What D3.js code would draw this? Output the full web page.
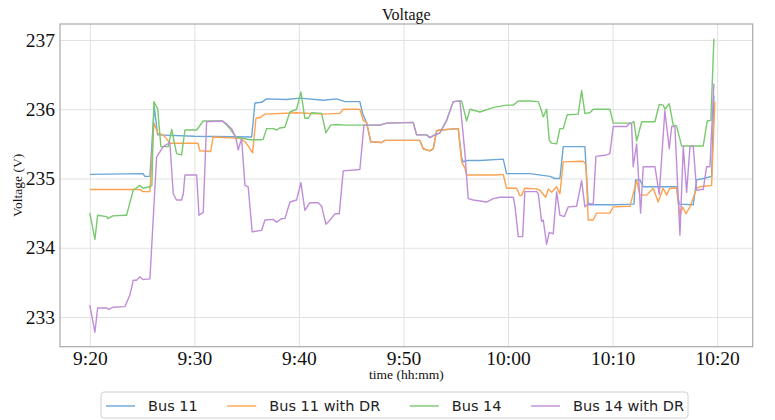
<!DOCTYPE html>
<html>
<head>
<meta charset="utf-8">
<script src="https://cdn.jsdelivr.net/npm/d3@7"></script>
<style>
  html, body { margin: 0; padding: 0; background: #fff; }
  svg { display: block; }
</style>
</head>
<body>
<svg id="chart" width="775" height="420"></svg>
<script>
// Minutes after 9:20 and bus voltages (V), one pair of arrays per series.
const bus11Min = [0, 5.08, 5.27, 5.75, 6.16, 6.49, 10.0, 15.48, 15.79, 16.43, 16.91, 18.82, 20.10, 22.33, 23.61, 24.40, 25.83, 26.09, 26.48, 26.86, 27.91, 28.23, 31.57, 31.89, 32.53, 32.85, 33.17, 33.49, 35.24, 35.56, 35.71, 36.04, 37.31, 39.54, 39.86, 42.09, 44.01, 44.48, 44.96, 45.28, 47.35, 47.67, 50.06, 52.04, 52.20, 52.61, 52.93, 56.12, 56.37, 57.71, 58.04, 58.67, 59.47, 59.69];
const bus11 = [235.06, 235.07, 235.03, 235.03, 236.04, 235.63, 235.61, 235.60, 236.09, 236.10, 236.15, 236.14, 236.16, 236.13, 236.15, 236.11, 236.11, 235.94, 235.80, 235.53, 235.52, 235.55, 235.55, 235.43, 235.40, 235.43, 235.69, 235.70, 235.72, 235.30, 235.24, 235.26, 235.26, 235.28, 235.07, 235.07, 235.03, 235.00, 235.00, 235.46, 235.46, 234.62, 234.62, 234.63, 234.98, 234.98, 234.88, 234.88, 234.63, 234.62, 234.98, 235.00, 235.03, 236.20];

const bus11DrMin = [0, 4.79, 5.08, 5.75, 6.13, 6.52, 7.02, 7.66, 10.34, 10.53, 11.56, 11.80, 14.36, 14.84, 15.15, 15.57, 15.89, 16.27, 16.75, 19.78, 22.33, 23.92, 24.24, 25.83, 26.15, 26.48, 26.89, 27.91, 28.23, 31.57, 31.89, 32.53, 32.85, 33.17, 33.49, 35.24, 35.56, 35.88, 36.04, 38.91, 39.54, 39.86, 40.82, 41.14, 41.30, 41.61, 42.73, 43.05, 43.60, 43.85, 44.17, 44.65, 44.96, 45.28, 47.19, 47.45, 47.67, 48.15, 48.47, 49.74, 50.06, 51.66, 51.92, 52.30, 52.61, 53.26, 53.89, 54.36, 54.84, 55.16, 55.48, 56.12, 56.44, 56.70, 57.01, 57.40, 58.04, 58.35, 59.47, 59.78];
const bus11Dr = [234.84, 234.84, 234.81, 234.81, 235.80, 235.65, 235.63, 235.51, 235.51, 235.40, 235.39, 235.60, 235.58, 235.53, 235.47, 235.37, 235.87, 235.88, 235.93, 235.95, 235.93, 235.94, 236.00, 236.00, 235.84, 235.81, 235.53, 235.52, 235.55, 235.55, 235.43, 235.40, 235.43, 235.69, 235.70, 235.72, 235.24, 235.15, 235.05, 235.05, 235.06, 234.86, 234.86, 234.75, 234.76, 234.86, 234.85, 234.83, 234.73, 234.85, 234.80, 234.88, 234.78, 235.24, 235.25, 235.20, 234.40, 234.40, 234.50, 234.50, 234.59, 234.60, 234.75, 234.97, 234.76, 234.76, 234.86, 234.66, 234.86, 234.76, 234.86, 234.86, 234.45, 234.59, 234.49, 234.59, 234.86, 234.88, 234.90, 236.11];

const bus14Min = [0, 0.49, 0.75, 1.61, 1.73, 2.20, 3.36, 3.52, 4.15, 4.79, 5.08, 5.75, 5.94, 6.13, 6.49, 6.80, 7.50, 7.83, 8.30, 8.78, 9.10, 10.22, 10.85, 12.73, 13.40, 13.95, 15.31, 16.43, 16.59, 16.91, 17.54, 17.87, 18.18, 18.66, 19.14, 19.78, 20.19, 20.57, 20.89, 21.22, 22.17, 22.58, 23.03, 23.61, 24.40, 26.22, 27.75, 28.39, 30.93, 31.26, 32.21, 32.53, 32.85, 33.49, 34.13, 34.76, 35.40, 35.56, 36.04, 36.36, 37.31, 38.27, 38.75, 39.86, 40.50, 40.98, 42.09, 42.89, 43.15, 43.37, 43.69, 43.94, 44.17, 44.65, 44.96, 45.28, 45.66, 46.71, 47.04, 47.35, 47.83, 48.15, 49.74, 50.06, 51.82, 52.04, 52.30, 52.78, 54.05, 54.46, 54.84, 55.00, 55.42, 55.80, 56.12, 56.60, 58.67, 59.05, 59.40, 59.69];
const bus14 = [234.50, 234.12, 234.47, 234.45, 234.42, 234.46, 234.47, 234.47, 234.83, 234.90, 234.86, 234.88, 234.90, 236.11, 236.01, 235.46, 235.46, 235.71, 235.36, 235.34, 235.70, 235.70, 235.83, 235.83, 235.72, 235.60, 235.56, 235.56, 235.57, 235.72, 235.72, 235.70, 235.73, 235.74, 235.96, 236.00, 236.25, 235.87, 235.87, 235.95, 235.94, 235.66, 235.77, 235.78, 235.77, 235.77, 235.77, 235.80, 235.81, 235.63, 235.63, 235.59, 235.62, 235.66, 235.84, 236.11, 236.12, 236.12, 235.83, 236.00, 235.96, 236.01, 236.03, 236.06, 236.06, 236.12, 236.12, 236.11, 236.00, 235.89, 236.00, 235.55, 235.51, 235.50, 235.72, 235.72, 235.92, 235.93, 236.27, 235.94, 235.95, 236.00, 236.00, 235.80, 235.80, 235.82, 235.54, 235.82, 235.82, 236.07, 236.06, 236.00, 236.08, 235.77, 235.76, 235.47, 235.47, 235.83, 235.84, 237.02];

const bus14DrMin = [0, 0.49, 0.75, 1.61, 1.80, 2.20, 3.36, 3.84, 4.15, 4.47, 4.79, 5.08, 5.75, 6.39, 7.02, 7.66, 7.98, 8.30, 8.78, 8.94, 9.10, 10.22, 10.44, 10.85, 11.17, 12.61, 13.00, 13.56, 13.95, 14.20, 14.36, 14.52, 14.84, 15.15, 15.53, 16.43, 16.75, 17.54, 17.87, 18.35, 18.66, 19.14, 19.78, 20.19, 20.57, 21.05, 21.85, 22.17, 22.58, 22.97, 23.44, 23.86, 24.24, 25.83, 26.22, 27.75, 28.39, 30.93, 31.26, 32.21, 32.53, 32.85, 33.49, 34.13, 34.76, 35.40, 35.88, 36.19, 36.67, 37.95, 38.58, 39.22, 40.50, 40.66, 40.98, 41.40, 41.61, 42.73, 42.89, 43.21, 43.37, 43.69, 43.94, 44.32, 44.65, 44.96, 45.38, 45.76, 46.56, 47.04, 47.35, 47.67, 48.15, 48.41, 49.43, 49.74, 50.06, 51.34, 51.66, 51.82, 51.97, 52.30, 52.68, 52.93, 54.05, 54.46, 55.00, 55.42, 55.65, 55.96, 56.44, 56.76, 57.08, 57.40, 57.71, 58.04, 58.42, 58.67, 58.99, 59.31, 59.69];
const bus14Dr = [233.17, 232.78, 233.13, 233.13, 233.11, 233.14, 233.15, 233.32, 233.53, 233.53, 233.58, 233.54, 233.55, 235.31, 235.46, 235.52, 234.78, 234.69, 234.69, 234.78, 235.05, 235.05, 234.47, 234.51, 235.82, 235.83, 235.80, 235.72, 235.60, 235.41, 235.50, 235.57, 234.90, 234.88, 234.23, 234.25, 234.40, 234.41, 234.37, 234.42, 234.42, 234.66, 234.69, 234.94, 234.54, 234.65, 234.65, 234.60, 234.34, 234.40, 234.49, 234.49, 235.11, 235.13, 235.77, 235.77, 235.80, 235.81, 235.63, 235.63, 235.59, 235.62, 235.66, 235.84, 236.11, 236.12, 235.36, 234.71, 234.69, 234.66, 234.71, 234.73, 234.73, 234.60, 234.16, 234.16, 234.81, 234.81, 234.78, 234.38, 234.40, 234.05, 234.22, 234.20, 234.81, 234.47, 234.45, 234.59, 234.60, 234.97, 234.59, 234.64, 234.63, 235.32, 235.34, 235.36, 235.75, 235.75, 235.80, 235.78, 235.17, 235.50, 234.50, 235.17, 235.17, 234.77, 235.98, 235.43, 235.75, 235.75, 234.18, 235.46, 234.80, 235.46, 235.47, 234.83, 234.84, 234.84, 235.17, 235.17, 236.37];

const seriesNames = ["Bus 11", "Bus 11 with DR", "Bus 14", "Bus 14 with DR"];
const seriesColors = ["#6aa6d8", "#ffa24f", "#79c96f", "#c08ed8"];
const yTickValues = [233, 234, 235, 236, 237];
const xTickMinutes = [0, 10, 20, 30, 40, 50, 60];

const start = new Date(2021, 0, 1, 9, 20, 0);
const at = m => new Date(start.getTime() + m * 60000);

const series = [
  [bus11Min, bus11], [bus11DrMin, bus11Dr], [bus14Min, bus14], [bus14DrMin, bus14Dr]
].map(([mins, vals], i) => ({
  name: seriesNames[i],
  color: seriesColors[i],
  points: mins.map((m, j) => ({ t: at(m), v: vals[j] }))
}));

const svg = d3.select("#chart");
const plot = { left: 60, right: 752.7, top: 24, bottom: 346.7 };

const x = d3.scaleTime()
  .domain([at(-2.85), at(63.4)])
  .range([plot.left, plot.right]);
const y = d3.scaleLinear()
  .domain([232.571, 237.231])
  .range([plot.bottom, plot.top]);

const serif = "'Liberation Serif', 'Times New Roman', serif";

// grid + tick labels
const gx = svg.append("g")
  .attr("transform", `translate(0,${plot.bottom})`)
  .call(d3.axisBottom(x)
    .tickValues(xTickMinutes.map(at))
    .tickFormat(d3.timeFormat("%-H:%M"))
    .tickSize(-(plot.bottom - plot.top))
    .tickPadding(4));
gx.select(".domain").remove();
gx.selectAll("line").attr("stroke", "#e2e2e2").attr("stroke-width", 1);
gx.selectAll("text")
  .attr("font-family", serif).attr("font-size", 19.5).attr("fill", "#111");

const gy = svg.append("g")
  .attr("transform", `translate(${plot.left},0)`)
  .call(d3.axisLeft(y)
    .tickValues(yTickValues)
    .tickFormat(d3.format("d"))
    .tickSize(-(plot.right - plot.left))
    .tickPadding(5));
gy.select(".domain").remove();
gy.selectAll("line").attr("stroke", "#e2e2e2").attr("stroke-width", 1);
gy.selectAll("text")
  .attr("font-family", serif).attr("font-size", 19.5).attr("fill", "#111");

// series lines
const line = d3.line().x(d => x(d.t)).y(d => y(d.v));
svg.append("g").selectAll("path")
  .data(series)
  .join("path")
  .attr("d", d => line(d.points))
  .attr("fill", "none")
  .attr("stroke", d => d.color)
  .attr("stroke-width", 1.4)
  .attr("stroke-linejoin", "round");

// frame
svg.append("rect")
  .attr("x", plot.left).attr("y", plot.top)
  .attr("width", plot.right - plot.left).attr("height", plot.bottom - plot.top)
  .attr("fill", "none").attr("stroke", "#a9a9a9").attr("stroke-width", 1.2);

// titles
const cx = (plot.left + plot.right) / 2;
svg.append("text")
  .attr("x", cx).attr("y", 20)
  .attr("text-anchor", "middle")
  .attr("font-family", serif).attr("font-size", 16).attr("fill", "#111")
  .text("Voltage");
svg.append("text")
  .attr("x", cx).attr("y", 379)
  .attr("text-anchor", "middle")
  .attr("font-family", serif).attr("font-size", 13.5).attr("fill", "#111")
  .text("time (hh:mm)");
svg.append("text")
  .attr("transform", `translate(22,${(plot.top + plot.bottom) / 2}) rotate(-90)`)
  .attr("text-anchor", "middle")
  .attr("font-family", serif).attr("font-size", 13.5).attr("fill", "#111")
  .text("Voltage (V)");

// legend
const legend = svg.append("g");
legend.append("rect")
  .attr("x", 101).attr("y", 392).attr("width", 587).attr("height", 26)
  .attr("rx", 3)
  .attr("fill", "#fff").attr("stroke", "#d0d0d0").attr("stroke-width", 1);
let lx = 106;
series.forEach(s => {
  legend.append("line")
    .attr("x1", lx).attr("x2", lx + 29)
    .attr("y1", 406).attr("y2", 406)
    .attr("stroke", s.color).attr("stroke-width", 1.4);
  const t = legend.append("text")
    .attr("x", lx + 42).attr("y", 411)
    .attr("font-family", "'DejaVu Sans', sans-serif").attr("font-size", 14.5)
    .attr("fill", "#222")
    .text(s.name);
  lx += 42 + t.node().getComputedTextLength() + 29.5;
});
</script>
</body>
</html>
